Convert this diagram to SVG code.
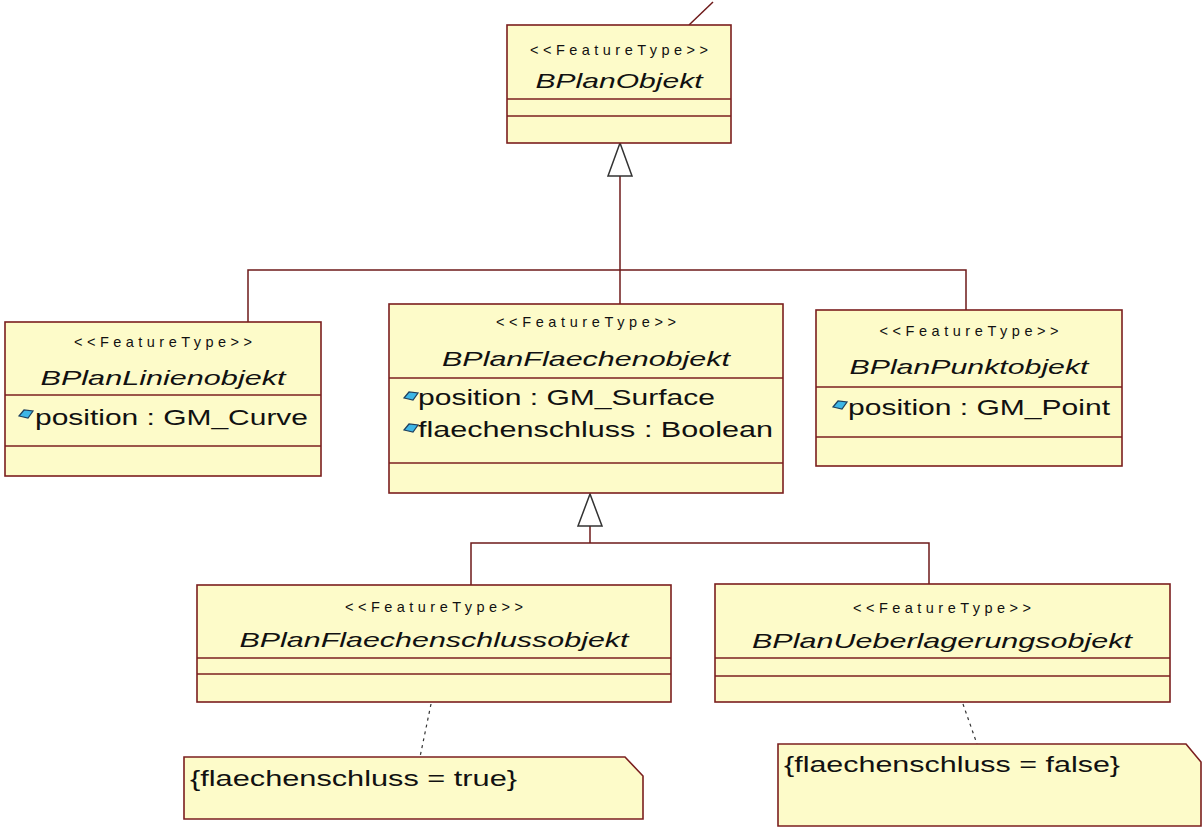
<svg xmlns="http://www.w3.org/2000/svg" xmlns:xlink="http://www.w3.org/1999/xlink" width="1202" height="827" viewBox="0 0 1202 827">
  <style>
    .box { fill: #fdfbc9; stroke: #7b1f1f; stroke-width: 1.6; }
    .div { stroke: #7b1f1f; stroke-width: 1.6; }
    .conn { fill: none; stroke: #6e1a1a; stroke-width: 1.5; }
    .dash { fill: none; stroke: #333; stroke-width: 1.2; stroke-dasharray: 3 4; }
    .gen { fill: #ffffff; stroke: #333; stroke-width: 1.5; }
    .stereo { font-family: "Liberation Sans", Arial, sans-serif; font-size: 14.5px; fill: #111; text-anchor: middle; }
    .name { font-family: "Liberation Sans", Arial, sans-serif; font-size: 21px; font-style: italic; fill: #111; text-anchor: middle; }
    .attr { font-family: "Liberation Sans", Arial, sans-serif; font-size: 22px; fill: #111; }
    .note { font-family: "Liberation Sans", Arial, sans-serif; font-size: 22px; fill: #111; }
  </style>
  <defs>
    <g id="attrIcon">
      <polygon points="-7,2 -2,-4 7,-3 2,4" fill="#3db6e6" stroke="#1d3f5e" stroke-width="1.2"/>
    </g>
  </defs>

  <rect width="1202" height="827" fill="#ffffff"/>

  <!-- connectors -->
  <g id="connectors">
    <line class="conn" x1="689" y1="25" x2="713" y2="2"/>
    <polyline class="conn" points="620,176 620,270"/>
    <polyline class="conn" points="248,322 248,270 966,270 966,310"/>
    <line class="conn" x1="620" y1="270" x2="620" y2="304"/>
    <polygon class="gen" points="620,143 608,176 632,176"/>

    <polyline class="conn" points="590,526 590,543"/>
    <polyline class="conn" points="471,585 471,543 929,543 929,584"/>
    <polygon class="gen" points="590,494 578,526 602,526"/>

    <line class="dash" x1="431" y1="704" x2="420" y2="757"/>
    <line class="dash" x1="963" y1="704" x2="977" y2="744"/>
  </g>

  <!-- BPlanObjekt -->
  <g id="BPlanObjekt">
    <rect class="box" x="507" y="25" width="224" height="118"/>
    <line class="div" x1="507" y1="99" x2="731" y2="99"/>
    <line class="div" x1="507" y1="116" x2="731" y2="116"/>
    <text class="stereo" x="619" y="55" textLength="178" lengthAdjust="spacing">&lt;&lt;FeatureType&gt;&gt;</text>
    <text class="name" x="619" y="88" textLength="167" lengthAdjust="spacingAndGlyphs">BPlanObjekt</text>
  </g>

  <!-- BPlanLinienobjekt -->
  <g id="BPlanLinienobjekt">
    <rect class="box" x="5" y="322" width="316" height="154"/>
    <line class="div" x1="5" y1="395" x2="321" y2="395"/>
    <line class="div" x1="5" y1="446" x2="321" y2="446"/>
    <text class="stereo" x="163" y="347" textLength="178" lengthAdjust="spacing">&lt;&lt;FeatureType&gt;&gt;</text>
    <text class="name" x="163" y="385" textLength="245" lengthAdjust="spacingAndGlyphs">BPlanLinienobjekt</text>
    <use xlink:href="#attrIcon" x="26" y="414"/>
    <text class="attr" x="35" y="425" textLength="273" lengthAdjust="spacingAndGlyphs">position : GM_Curve</text>
  </g>

  <!-- BPlanFlaechenobjekt -->
  <g id="BPlanFlaechenobjekt">
    <rect class="box" x="389" y="304" width="394" height="189"/>
    <line class="div" x1="389" y1="378" x2="783" y2="378"/>
    <line class="div" x1="389" y1="463" x2="783" y2="463"/>
    <text class="stereo" x="586" y="327" textLength="180" lengthAdjust="spacing">&lt;&lt;FeatureType&gt;&gt;</text>
    <text class="name" x="586" y="366" textLength="288" lengthAdjust="spacingAndGlyphs">BPlanFlaechenobjekt</text>
    <use xlink:href="#attrIcon" x="411" y="396"/>
    <text class="attr" x="418" y="405" textLength="297" lengthAdjust="spacingAndGlyphs">position : GM_Surface</text>
    <use xlink:href="#attrIcon" x="411" y="428"/>
    <text class="attr" x="418" y="437" textLength="355" lengthAdjust="spacingAndGlyphs">flaechenschluss : Boolean</text>
  </g>

  <!-- BPlanPunktobjekt -->
  <g id="BPlanPunktobjekt">
    <rect class="box" x="816" y="310" width="306" height="156"/>
    <line class="div" x1="816" y1="387" x2="1122" y2="387"/>
    <line class="div" x1="816" y1="437" x2="1122" y2="437"/>
    <text class="stereo" x="969" y="336" textLength="179" lengthAdjust="spacing">&lt;&lt;FeatureType&gt;&gt;</text>
    <text class="name" x="969" y="374" textLength="239" lengthAdjust="spacingAndGlyphs">BPlanPunktobjekt</text>
    <use xlink:href="#attrIcon" x="840" y="405"/>
    <text class="attr" x="848" y="415" textLength="262" lengthAdjust="spacingAndGlyphs">position : GM_Point</text>
  </g>

  <!-- BPlanFlaechenschlussobjekt -->
  <g id="BPlanFlaechenschlussobjekt">
    <rect class="box" x="197" y="585" width="474" height="117"/>
    <line class="div" x1="197" y1="658" x2="671" y2="658"/>
    <line class="div" x1="197" y1="674" x2="671" y2="674"/>
    <text class="stereo" x="434" y="612" textLength="178" lengthAdjust="spacing">&lt;&lt;FeatureType&gt;&gt;</text>
    <text class="name" x="434" y="647" textLength="389" lengthAdjust="spacingAndGlyphs">BPlanFlaechenschlussobjekt</text>
  </g>

  <!-- BPlanUeberlagerungsobjekt -->
  <g id="BPlanUeberlagerungsobjekt">
    <rect class="box" x="715" y="584" width="455" height="118"/>
    <line class="div" x1="715" y1="658" x2="1170" y2="658"/>
    <line class="div" x1="715" y1="676" x2="1170" y2="676"/>
    <text class="stereo" x="942" y="613" textLength="178" lengthAdjust="spacing">&lt;&lt;FeatureType&gt;&gt;</text>
    <text class="name" x="942" y="648" textLength="380" lengthAdjust="spacingAndGlyphs">BPlanUeberlagerungsobjekt</text>
  </g>

  <!-- constraint notes -->
  <g id="noteTrue">
    <path class="box" d="M184,757 L625,757 L643,776 L643,819 L184,819 Z"/>
    <text class="note" x="190" y="786" textLength="327" lengthAdjust="spacingAndGlyphs">{flaechenschluss = true}</text>
  </g>
  <g id="noteFalse">
    <path class="box" d="M778,744 L1186,744 L1201,762 L1201,826 L778,826 Z"/>
    <text class="note" x="784" y="772" textLength="336" lengthAdjust="spacingAndGlyphs">{flaechenschluss = false}</text>
  </g>
</svg>
